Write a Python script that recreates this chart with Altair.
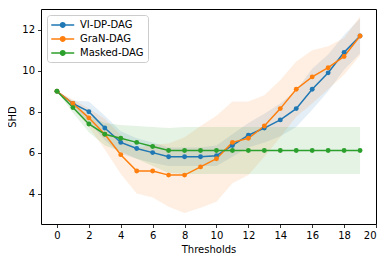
import altair as alt
import pandas as pd

thresholds = list(range(20))
methods = ["VI-DP-DAG", "GraN-DAG", "Masked-DAG"]
colors = ["#1f77b4", "#ff7f0e", "#2ca02c"]

vi_mean = [9.0, 8.4, 8.0, 7.2, 6.5, 6.2, 6.0, 5.8, 5.8, 5.8, 5.85, 6.35, 6.85, 7.2, 7.6, 8.15, 9.1, 9.9, 10.9, 11.7]
vi_std = [0.0, 0.15, 0.5, 0.6, 0.55, 0.5, 0.5, 0.45, 0.45, 0.45, 0.5, 0.55, 0.6, 0.7, 0.8, 0.9, 1.0, 0.9, 0.85, 0.85]

gran_mean = [9.0, 8.4, 7.7, 6.9, 5.9, 5.1, 5.1, 4.9, 4.9, 5.3, 5.7, 6.5, 6.7, 7.3, 8.15, 9.1, 9.7, 10.15, 10.7, 11.7]
gran_std = [0.0, 0.2, 0.45, 0.75, 0.95, 1.1, 1.3, 1.55, 1.85, 2.0, 2.1, 2.0, 1.8, 1.5, 1.4, 1.35, 1.3, 1.05, 0.9, 0.95]

masked_mean = [9.0, 8.2, 7.4, 6.9, 6.7, 6.5, 6.3, 6.1, 6.1, 6.1, 6.1, 6.1, 6.1, 6.1, 6.1, 6.1, 6.1, 6.1, 6.1, 6.1]
masked_std = [0.0, 0.25, 0.4, 0.55, 0.65, 0.8, 0.95, 1.1, 1.15, 1.15, 1.15, 1.15, 1.15, 1.15, 1.15, 1.15, 1.15, 1.15, 1.15, 1.15]

x_ticks = list(range(0, 21, 2))
y_ticks = [4, 6, 8, 10, 12]

rows = []
for m, means, stds in zip(methods, [vi_mean, gran_mean, masked_mean], [vi_std, gran_std, masked_std]):
    for t, v, s in zip(thresholds, means, stds):
        rows.append({"Thresholds": t, "SHD": v, "lo": v - s, "hi": v + s, "method": m})
df = pd.DataFrame(rows)

FONT = "DejaVu Sans"
legend_path = ("M-1,-0.13L3,-0.13L3,0.13L-1,0.13Z "
               "M0.48,0A0.52,0.52 0 1,1 1.52,0A0.52,0.52 0 1,1 0.48,0Z")

legend = alt.Legend(
    title=None, orient="top-left", offset=6, symbolType=legend_path,
    symbolSize=132, labelOffset=17, rowPadding=3, padding=4,
    strokeColor="#cccccc", fillColor="white", cornerRadius=3,
    labelFontSize=10, labelFont=FONT, labelColor="black",
    symbolStrokeWidth=0, symbolOpacity=1)

cscale = alt.Scale(domain=methods, range=colors)
color = alt.Color("method:N", scale=cscale, legend=legend)
xenc = alt.X("Thresholds:Q", scale=alt.Scale(domain=[-1, 20], nice=False, zero=False),
             axis=alt.Axis(values=x_ticks, title="Thresholds"))
yscale = alt.Scale(domain=[2.51, 13.02], nice=False, zero=False)

bands = alt.Chart(df).mark_area(opacity=0.12).encode(
    x=xenc,
    y=alt.Y("lo:Q", scale=yscale, axis=alt.Axis(values=y_ticks, title="SHD")),
    y2="hi:Q",
    color=color,
)

lines = alt.Chart(df).mark_line(strokeWidth=1.5).encode(
    x=xenc,
    y=alt.Y("SHD:Q", scale=yscale),
    color=color,
)

points = alt.Chart(df).mark_point(filled=True, size=24, opacity=1).encode(
    x=xenc,
    y=alt.Y("SHD:Q", scale=yscale),
    color=color,
)

chart = alt.layer(bands, lines, points).properties(
    width=335, height=215,
    padding={"left": 33, "top": 1, "right": 5, "bottom": 30},
    autosize="none",
).configure_view(
    stroke="black", strokeWidth=1
).configure_axis(
    domain=False, grid=False, tickColor="black", tickSize=3.5, tickWidth=0.8,
    labelFont=FONT, labelFontSize=10, labelColor="black", labelPadding=3,
    titleFont=FONT, titleFontSize=10, titleColor="black", titleFontWeight="normal",
    titlePadding=4,
)

chart.save("out.html", embed_options={"renderer": "svg", "actions": False})
